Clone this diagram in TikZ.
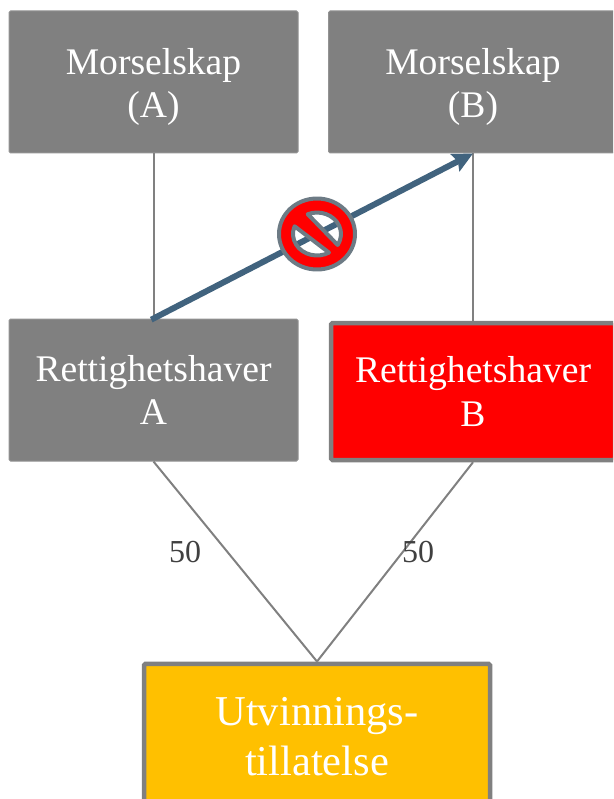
\documentclass[tikz,border=0pt]{standalone}
\usepackage{fontspec}
\setmainfont{Liberation Serif}
\usetikzlibrary{arrows.meta}
\definecolor{boxgray}{HTML}{808080}
\definecolor{arrowblue}{HTML}{41637E}
\definecolor{nogray}{HTML}{6D7B85}
\definecolor{gold}{HTML}{FFC000}
\definecolor{labelgray}{HTML}{404040}
\tikzset{
  plainbox/.style={rectangle,fill=boxgray,draw=boxgray!85!white,line width=1pt,rounded corners=1.5pt,
    minimum width=289pt,minimum height=142pt,inner sep=0pt},
  redbox/.style={plainbox,fill=red,draw=boxgray,line width=4.5pt,minimum width=284pt,minimum height=137pt},
  goldbox/.style={rectangle,fill=gold,draw=boxgray,line width=4.5pt,rounded corners=1.5pt,
    minimum width=346pt,minimum height=190pt,inner sep=0pt},
  boxtext/.style={align=center,text=white,inner sep=0pt,font=\fontsize{37.6}{43.5}\selectfont},
  bigtext/.style={align=center,text=white,inner sep=0pt,font=\fontsize{42.5}{49.5}\selectfont},
  link/.style={draw=boxgray,line width=2pt},
  barred/.style={draw=arrowblue,line width=6pt,shorten <=-2.5pt,-{Stealth[length=20pt,width=19pt,inset=3pt]}},
  numlabel/.style={text=labelgray,inner sep=0pt,font=\fontsize{32}{36}\selectfont},
}
\begin{document}
\begin{tikzpicture}[x=1pt,y=-1pt]
\useasboundingbox (0,0) rectangle (613,799);
\clip (0,0) rectangle (613,799);
\node[plainbox,label={[boxtext,yshift=-5pt]center:Morselskap\\(A)}] (ma) at (153.5,82) {};
\node[plainbox,label={[boxtext,yshift=-5pt]center:Morselskap\\(B)}] (mb) at (473,82) {};
\node[plainbox,label={[boxtext]center:Rettighetshaver\\A}] (ra) at (153.5,390) {};
\node[redbox,label={[boxtext]center:Rettighetshaver\\B}] (rb) at (473,391.5) {};
\node[goldbox,anchor=north,label={[bigtext,yshift=22pt]center:Utvinnings-\\tillatelse}] (ut) at (317,661.5) {};
\draw[link] (ma.south) -- (ra.north);
\draw[link] (mb.south) -- (rb.north);
\draw[link] (ra.south) -- (ut.north);
\draw[link] (rb.south) -- (ut.north);
\draw[barred] (ra.north) -- (mb.south);
\node[numlabel] (la) at (185,552) {50};
\node[numlabel] (lb) at (418,552) {50};
\coordinate (nosym) at (317,234);
\begin{scope}[shift={(nosym)}]
\path[fill=red,draw=nogray,line width=4pt,line join=round,even odd rule]
  (0,0) ellipse [x radius=38,y radius=35.5]
  (-9.25,-19.8) arc [start angle=-112.7,end angle=30.5,x radius=24,y radius=21.5] -- cycle
  (12,18.6) arc [start angle=60,end angle=201,x radius=24,y radius=21.5] -- cycle;
\end{scope}
\end{tikzpicture}
\end{document}
